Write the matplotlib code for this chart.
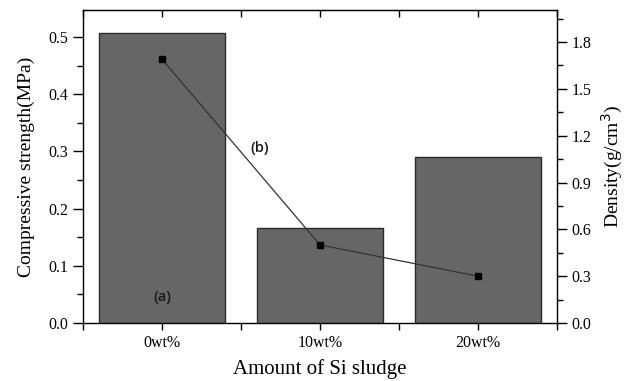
import numpy as np
import matplotlib
matplotlib.use('Agg')
from matplotlib import pyplot as plt
from matplotlib.ticker import MultipleLocator

# sludge content, compressive strength (bars) and density (line)
labels = ['0wt%', '10wt%', '20wt%']
strength = [0.507, 0.166, 0.290]
density = [1.69, 0.50, 0.30]

plt.rcParams['font.family'] = ['Liberation Serif', 'DejaVu Serif']

fig = plt.figure(figsize=(6.27, 3.81), dpi=100)
ax = fig.add_axes([83/627, 1 - 323/381, (557-83)/627, (323-10)/381])
x = np.arange(1, len(labels) + 1)

ax.bar(x, strength, width=0.8, color='#666666', edgecolor='#2a2a2a', linewidth=1.0, zorder=2)
ax.set_xlim(0.5, 3.5)
ax.set_ylim(0, 0.547)
ax.set_xticks(x)
ax.set_xticklabels(labels)
ax.xaxis.set_minor_locator(MultipleLocator(0.5))
ax.yaxis.set_major_locator(MultipleLocator(0.1))
ax.yaxis.set_minor_locator(MultipleLocator(0.05))
ax.tick_params(axis='y', which='major', direction='out', length=7, width=1, labelsize=11.5)
ax.tick_params(axis='y', which='minor', direction='out', length=4, width=1)
ax.tick_params(axis='x', which='both', direction='out', length=5, width=1, labelsize=11.5)
ax.set_xlabel('Amount of Si sludge', fontsize=15, labelpad=6)
ax.set_ylabel('Compressive strength(MPa)', fontsize=14, labelpad=10)
for s in ax.spines.values():
    s.set_linewidth(1.0)
    s.set_color('#333333')

# inward ticks along the top edge
sec = ax.secondary_xaxis('top')
sec.set_xticks(x)
sec.set_xticklabels([])
sec.xaxis.set_minor_locator(MultipleLocator(0.5))
sec.tick_params(axis='x', which='both', direction='in', length=5, width=1)

ax2 = ax.twinx()
ax2.plot(x, density, color='#333333', linewidth=0.9, marker='s', markersize=5,
         markerfacecolor='black', markeredgecolor='black', zorder=3)
ax2.set_ylim(0, 2.005)
ax2.yaxis.set_major_locator(MultipleLocator(0.3))
ax2.yaxis.set_minor_locator(MultipleLocator(0.15))
ax2.tick_params(axis='y', which='major', direction='out', length=7, width=1, labelsize=11.5)
ax2.tick_params(axis='y', which='minor', direction='out', length=4, width=1)
ax2.set_ylabel('Density(g/cm$^3$)', fontsize=14, labelpad=6)

ax.text(1, 0.045, '(a)', ha='center', va='center', fontsize=10.5, fontweight='semibold',
        family='Open Sans', color='#1a1a1a')
ax.text(1.62, 0.305, '(b)', ha='center', va='center', fontsize=10.5, fontweight='semibold',
        family='Open Sans', color='#1a1a1a')

fig.savefig('out.png', dpi=100)
